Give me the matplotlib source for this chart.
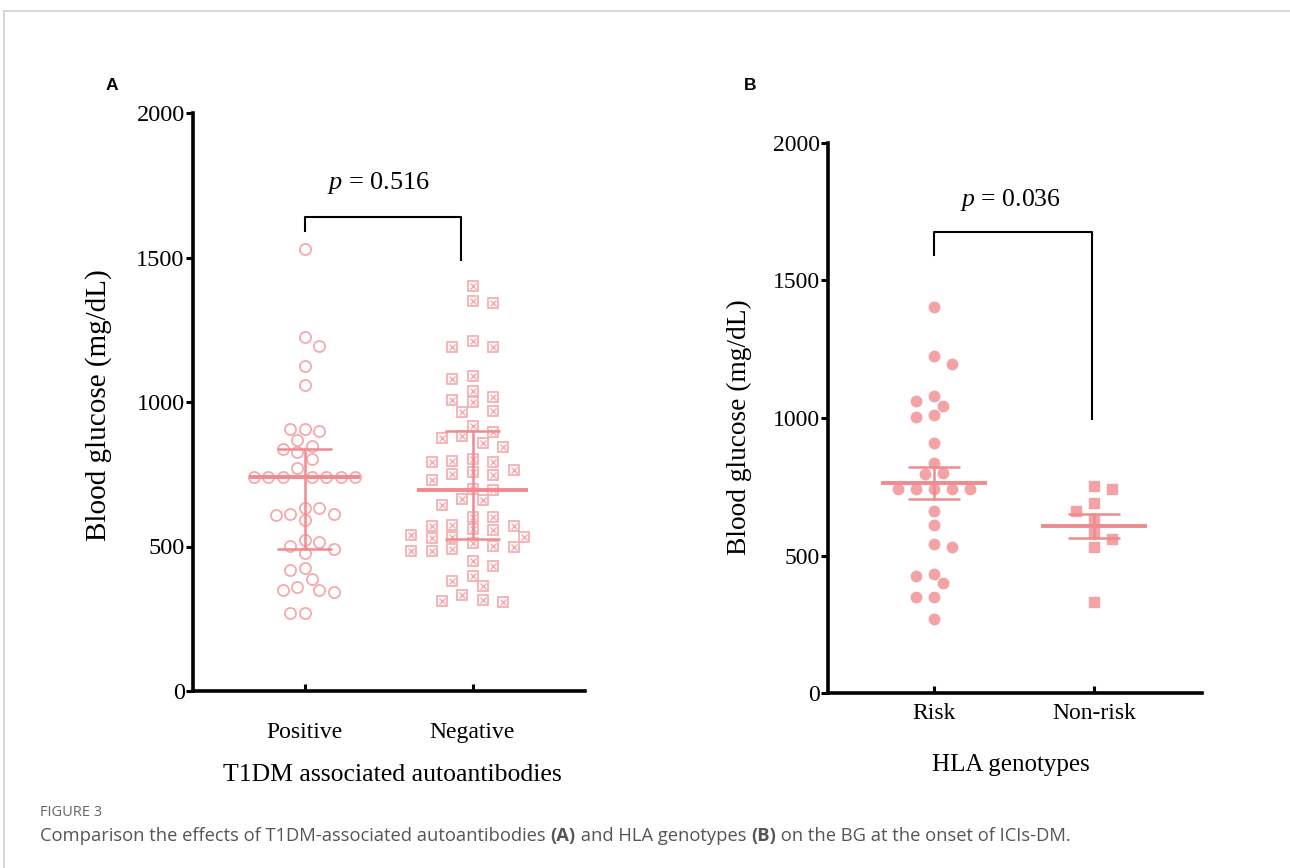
import matplotlib
matplotlib.use("Agg")
import matplotlib.pyplot as plt
import numpy as np
from matplotlib.lines import Line2D

# ---------------- data ----------------
GROUPS_A = ["Positive", "Negative"]
positive_bg = [1531, 1225, 1193, 1123, 1060, 906, 906, 900, 869, 848, 837, 827,
               802, 773, 742, 742, 742, 742, 742, 742, 742, 632, 632, 613, 611,
               609, 591, 522, 515, 501, 493, 476, 426, 418, 389, 360, 351, 348,
               341, 270, 270]
negative_bg = [1402, 1350, 1343, 1211, 1190, 1190, 1091, 1080, 1039, 1016, 1008,
               999, 970, 964, 918, 895, 883, 877, 858, 845, 802, 796, 793, 793,
               764, 758, 752, 747, 729, 698, 695, 663, 661, 642, 603, 603, 576,
               570, 570, 559, 556, 539, 534, 534, 530, 513, 501, 499, 490, 486,
               486, 449, 434, 399, 382, 362, 333, 314, 310, 308]

GROUPS_B = ["Risk", "Non-risk"]
risk_bg = [1403, 1225, 1195, 1080, 1062, 1044, 1010, 1002, 908, 837, 801, 795,
           741, 741, 741, 741, 741, 663, 611, 542, 532, 433, 427, 399, 350, 348,
           269]
nonrisk_bg = [753, 741, 692, 662, 629, 581, 559, 532, 330]

P_A = "p = 0.516"
P_B = "p = 0.036"
# bracket: (x_left, x_right, top, left_end, right_end) in data units
BRACKET_A = (1.0, 1.93, 1641, 1592, 1491)
BRACKET_B = (1.0, 1.99, 1675, 1593, 995)

YTICKS = [0, 500, 1000, 1500, 2000]

PINK_LINE = "#EF8A8F"
PINK_OPEN = "#F5A9AD"
PINK_FILL = "#F3A2A6"
SERIF = "Liberation Serif"


def swarm_offsets(ax, values, sx, sy):
    """Greedy beeswarm in pixel space (elliptic spacing sx by sy px),
    returns x offsets in data units."""
    y0, y1 = ax.get_ylim()
    x0, x1 = ax.get_xlim()
    ypx = np.asarray(values, float) * ax.bbox.height / (y1 - y0)
    xscale = ax.bbox.width / (x1 - x0)
    order = np.argsort(-ypx, kind="stable")
    px, py = [], []
    off = np.zeros(len(values))
    flip = 1
    for i in order:
        chosen = 0.0
        for k in range(60):
            cands = [0.0] if k == 0 else [flip * k * sx / 2, -flip * k * sx / 2]
            hit = None
            for c in cands:
                if all(((c - a) / sx) ** 2 + ((ypx[i] - b) / sy) ** 2 >= 0.95
                       for a, b in zip(px, py)):
                    hit = c
                    break
            if hit is not None:
                chosen = hit
                break
        if chosen != 0:
            flip = -flip
        px.append(chosen)
        py.append(ypx[i])
        off[i] = chosen / xscale
    return off


def style_axes(ax, labels, tick_pad, xlim):
    ax.set_xlim(*xlim)
    ax.set_ylim(0, 2000)
    for s in ("top", "right"):
        ax.spines[s].set_visible(False)
    for s in ("left", "bottom"):
        ax.spines[s].set_linewidth(2.6)
    ax.set_yticks(YTICKS)
    ax.set_yticklabels([str(t) for t in YTICKS], fontfamily=SERIF, fontsize=17.5)
    ax.tick_params(axis="y", direction="out", length=5, width=2.2, pad=1)
    ax.set_xticks([1, 2])
    ax.set_xticklabels(labels, fontfamily=SERIF, fontsize=17)
    ax.tick_params(axis="x", direction="in", length=5, width=2.2, pad=tick_pad)


def summary_bar(ax, x, center, lo, hi):
    ax.plot([x - 0.33, x + 0.33], [center, center], color=PINK_LINE, lw=2.8,
            solid_capstyle="butt", zorder=4)
    ax.plot([x, x], [lo, hi], color=PINK_LINE, lw=1.8, zorder=4)
    for v in (lo, hi):
        ax.plot([x - 0.165, x + 0.165], [v, v], color=PINK_LINE, lw=1.8,
                solid_capstyle="butt", zorder=4)


def bracket(ax, br, text, text_x, text_y, size):
    xl, xr, top, le, re = br
    ax.plot([xl, xl, xr, xr], [le, top, top, re], color="black", lw=1.5,
            clip_on=False, zorder=5)
    ax.text(text_x, text_y, "$\\it{p}$" + text[1:], ha="center", va="center",
            fontfamily=SERIF, fontsize=size)


plt.rcParams["mathtext.fontset"] = "custom"
plt.rcParams["mathtext.it"] = "Liberation Serif:italic"
plt.rcParams["mathtext.rm"] = "Liberation Serif"

fig = plt.figure(figsize=(12.9, 8.68), dpi=100)

# ---------------- panel A ----------------
axA = fig.add_axes([193 / 1290, (868 - 691) / 868, (585 - 193) / 1290, 578 / 868])
style_axes(axA, GROUPS_A, 22, (0.335, 2.67))
offA1 = swarm_offsets(axA, positive_bg, 14.5, 11.5)
offA2 = swarm_offsets(axA, negative_bg, 20.5, 11.5)
axA.plot(1 + offA1, positive_bg, ls="none", marker="o", ms=8, mfc="none",
         mec=PINK_OPEN, mew=1.3, zorder=3)
axA.plot(2 + offA2, negative_bg, ls="none", marker="s", ms=7, mfc="none",
         mec=PINK_OPEN, mew=1.2, zorder=3)
axA.plot(2 + offA2, negative_bg, ls="none", marker="x", ms=5, mec=PINK_OPEN,
         mew=1.0, zorder=3)
for x, vals in ((1, positive_bg), (2, negative_bg)):
    q1, med, q3 = np.percentile(vals, [25, 50, 75])
    summary_bar(axA, x, med, q1, q3)
bracket(axA, BRACKET_A, P_A, 1.44, 1758, 19)
axA.set_ylabel("Blood glucose (mg/dL)", fontfamily=SERIF, fontsize=21)
axA.yaxis.set_label_coords(-0.207, 0.495)
axA.set_xlabel("T1DM associated autoantibodies", fontfamily=SERIF, fontsize=18.5,
               va="center")
axA.xaxis.set_label_coords(0.509, -0.145)

# ---------------- panel B ----------------
axB = fig.add_axes([828 / 1290, (868 - 693) / 868, (1202 - 828) / 1290, 550 / 868])
style_axes(axB, GROUPS_B, 7, (0.3375, 2.675))
axB.set_yticklabels([str(t) for t in YTICKS], fontfamily=SERIF, fontsize=17)
offB1 = swarm_offsets(axB, risk_bg, 18, 10.5)
offB2 = swarm_offsets(axB, nonrisk_bg, 18, 10.5)
axB.plot(1 + offB1, risk_bg, ls="none", marker="o", ms=7.5, mfc=PINK_FILL,
         mec=PINK_FILL, zorder=3)
axB.plot(2 + offB2, nonrisk_bg, ls="none", marker="s", ms=7, mfc=PINK_FILL,
         mec=PINK_FILL, zorder=3)
for x, vals in ((1, risk_bg), (2, nonrisk_bg)):
    v = np.asarray(vals, float)
    m = v.mean()
    sem = v.std(ddof=1) / np.sqrt(len(v))
    summary_bar(axB, x, m, m - sem, m + sem)
bracket(axB, BRACKET_B, P_B, 1.475, 1793, 18.5)
axB.set_ylabel("Blood glucose (mg/dL)", fontfamily=SERIF, fontsize=19.7)
axB.yaxis.set_label_coords(-0.203, 0.484)
axB.set_xlabel("HLA genotypes", fontfamily=SERIF, fontsize=18, va="center")
axB.xaxis.set_label_coords(0.489, -0.131)

# ---------------- panel letters, caption, frame ----------------
fig.text(112 / 1290, 1 - 86 / 868, "A", fontfamily="Liberation Sans",
         fontweight="bold", fontsize=12.5, ha="center", va="center")
fig.text(750 / 1290, 1 - 86 / 868, "B", fontfamily="Liberation Sans",
         fontweight="bold", fontsize=12.5, ha="center", va="center")

fig.text(40 / 1290, 1 - 812 / 868, "FIGURE 3", fontfamily="Open Sans",
         fontsize=10.5, color="#666666", va="center")

caption = [("Comparison the effects of T1DM-associated autoantibodies ", "normal"),
           ("(A)", "bold"),
           (" and HLA genotypes ", "normal"),
           ("(B)", "bold"),
           (" on the BG at the onset of ICIs-DM.", "normal")]
renderer = fig.canvas.get_renderer()
x_px = 40
for txt, weight in caption:
    t = fig.text(x_px / 1290, 1 - 836 / 868, txt, fontfamily="Open Sans",
                 fontsize=13.2, color="#555555", fontweight=weight, va="center")
    x_px += t.get_window_extent(renderer).width

fig.add_artist(Line2D([4 / 1290, 1], [1 - 11 / 868, 1 - 11 / 868],
                      color="#d0d0d0", lw=1.2))
fig.add_artist(Line2D([4 / 1290, 4 / 1290], [0, 1 - 11 / 868],
                      color="#d0d0d0", lw=1.2))

fig.savefig("out.png", dpi=100)
